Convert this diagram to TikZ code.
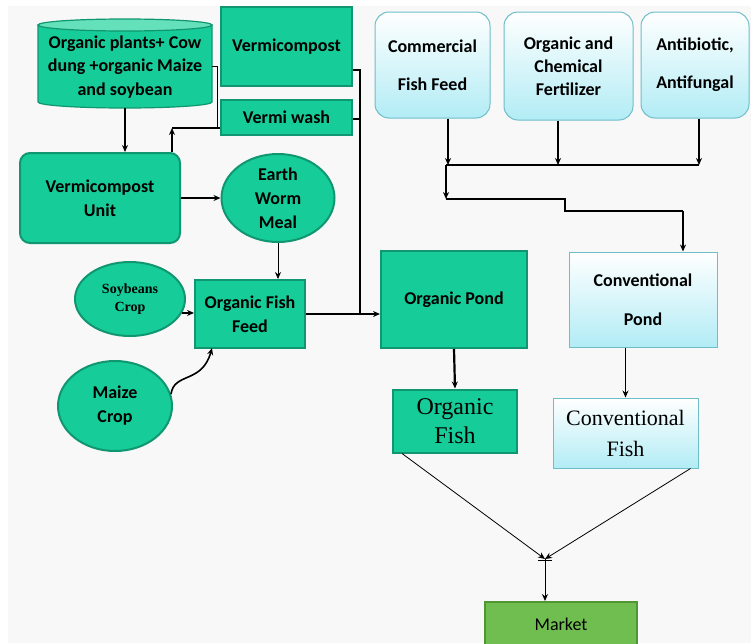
\documentclass[tikz,border=0pt]{standalone}
\usepackage{fontspec}
\setmainfont{Carlito}
\newfontfamily\serifx{Liberation Serif}
\usetikzlibrary{arrows.meta,shapes.geometric,calc}
\definecolor{teal1}{RGB}{22,204,152}
\definecolor{tealtop}{RGB}{100,224,186}
\definecolor{tealb}{RGB}{16,150,112}
\definecolor{cyanb}{RGB}{110,190,200}
\definecolor{cyanf}{RGB}{178,236,245}
\definecolor{mkt}{RGB}{112,190,80}
\definecolor{mktb}{RGB}{80,150,50}
\definecolor{bgc}{RGB}{248,248,248}
\tikzset{
  gbox/.style={draw=tealb, line width=2pt, fill=teal1, font=\bfseries\fontsize{18}{24}\selectfont, align=center, inner sep=0pt},
  gell/.style={gbox, ellipse},
  cbox/.style={draw=cyanb, line width=1pt, top color=white, bottom color=cyanf, align=center, inner sep=0pt, font=\bfseries\fontsize{18}{23}\selectfont},
  ln/.style={line width=1.6pt, black},
  thin ln/.style={line width=0.8pt, black},
  tip/.style={-{Stealth[length=7pt,width=6pt]}},
}
\begin{document}
\begin{tikzpicture}[x=1pt,y=-1pt]
\useasboundingbox (0,0) rectangle (751,643);
\fill[bgc] (8,6) rectangle (751,643);

% cylinder (drawn by hand) with a text node
\fill[teal1, draw=tealb, line width=1.2pt] (38,25) -- (38,102) arc[start angle=180, end angle=360, x radius=87pt, y radius=6pt] -- (212,25) -- cycle;
\filldraw[fill=tealtop, draw=tealb, line width=1.2pt] (125,25) ellipse[x radius=87pt, y radius=6pt];
\node[font=\bfseries\fontsize{18}{23.5}\selectfont, align=center] (src) at (125,67) {Organic plants+ Cow\\dung +organic Maize\\and soybean};
\path (src.center) ++(87,0) coordinate (srcE);

\node[gbox, minimum width=131pt, minimum height=79pt] (vc) at (286.5,46.5) {Vermicompost};
\node[gbox, minimum width=131pt, minimum height=35pt] (vw) at (286.5,117.5) {Vermi wash};
\node[gbox, rounded corners=10pt, minimum width=160pt, minimum height=90pt] (vu) at (100,198) {Vermicompost\\Unit};
\node[gell, minimum width=113pt, minimum height=88pt] (ewm) at (278,198) {Earth\\Worm\\Meal};
\node[gell, minimum width=110pt, minimum height=74pt, font=\serifx\bfseries\fontsize{14}{18}\selectfont] (soy) at (130,299) {Soybeans\\Crop};
\node[gbox, minimum width=110pt, minimum height=68pt] (off) at (250,314) {Organic Fish\\Feed};
\node[gell, minimum width=114pt, minimum height=90pt] (maize) at (115,406) {Maize\\Crop};
\node[gbox, minimum width=146pt, minimum height=97pt] (op) at (454,299.5) {Organic Pond};
\node[gbox, minimum width=124pt, minimum height=63pt, font=\serifx\fontsize{24}{29}\selectfont] (of) at (455,421) {Organic\\Fish};

\node[cbox, rounded corners=14pt, minimum width=115pt, minimum height=106pt, font=\bfseries\fontsize{18}{38}\selectfont] (cff) at (432.5,65) {Commercial\\Fish Feed};
\node[cbox, rounded corners=14pt, minimum width=129pt, minimum height=108pt] (ocf) at (568.5,66) {Organic and\\Chemical\\Fertilizer};
\node[cbox, rounded corners=14pt, minimum width=108pt, minimum height=106pt, font=\bfseries\fontsize{18}{38}\selectfont] (aa) at (695,65) {Antibiotic,\\Antifungal};
\node[cbox, minimum width=148pt, minimum height=95pt, font=\bfseries\fontsize{18}{39}\selectfont] (cp) at (643,299.5) {Conventional\\Pond};
\node[cbox, minimum width=145pt, minimum height=70pt, font=\serifx\fontsize{22}{31}\selectfont] (cf) at (625.5,433) {Conventional\\Fish};
\node[draw=mktb, line width=2pt, fill=mkt, minimum width=152pt, minimum height=44pt, font=\fontsize{18}{20}\selectfont] (mkt) at (561,624) {Market};

% organic side connectors
\draw[ln, tip] (src.south |- 0,108) -- (src.south |- vu.north);
\coordinate (j1) at (217,66);
\coordinate (j2) at (217,128);
\coordinate (j3) at (172,128);
\draw[thin ln] (srcE |- j1) -- (j1) -- (j2);
\draw[ln, tip] (vu.north -| j3) -- (j3);
\draw[ln] (j3) -- (vw.west |- j3);
\coordinate (b1) at (360,70);
\coordinate (b2) at (360,119);
\coordinate (b3) at (360,314);
\draw[ln] (vc.east |- b1) -- (b1) -- (b3);
\draw[ln] (vw.east |- b2) -- (b2);
\draw[ln, tip] (off.east) -- (op.west |- off.east);
\draw[ln, tip] (vu.east) -- (ewm.west);
\draw[thin ln, tip] (ewm.south) -- (off.north -| ewm.south);
\draw[ln, tip] (soy.-15) -- (off.west |- soy.-15);
\coordinate (mz) at (212,348);
\draw[ln, tip] (maize.12) .. controls (174,372) and (202,384) .. (mz);
\draw[ln, line width=2.2pt, tip] (op.south) -- (of.north);

% conventional side connectors
\coordinate (c1) at (448,165);
\coordinate (c2) at (558,165);
\coordinate (c3) at (699,165);
\coordinate (h0) at (446,165);
\draw[ln, tip] (cff.south -| c1) -- (c1);
\draw[ln, tip] (ocf.south -| c2) -- (c2);
\draw[ln, tip] (aa.south -| c3) -- (c3);
\draw[ln] (h0) -- (c3);
\coordinate (s1) at (446,199);
\coordinate (s2) at (565,199);
\coordinate (s3) at (565,211);
\coordinate (s4) at (683,211);
\draw[ln, tip] (h0) -- (s1);
\draw[line width=2.6pt, black] (s1) -- (s2) -- (s3) -- (s4);
\draw[ln, tip] (s4) -- (cp.north -| s4);
\draw[thin ln, tip] (cf.north |- cp.south) -- (cf.north);

% market
\coordinate (m) at (545,559);
\draw[thin ln, tip] ($(of.south west)+(10,0)$) -- (m);
\draw[thin ln, tip] ($(cf.south east)+(-8,0)$) -- (m);
\draw[thin ln] (538,560) -- (552,560);
\draw[thin ln, tip] (m) -- (mkt.north -| m);
\end{tikzpicture}
\end{document}
